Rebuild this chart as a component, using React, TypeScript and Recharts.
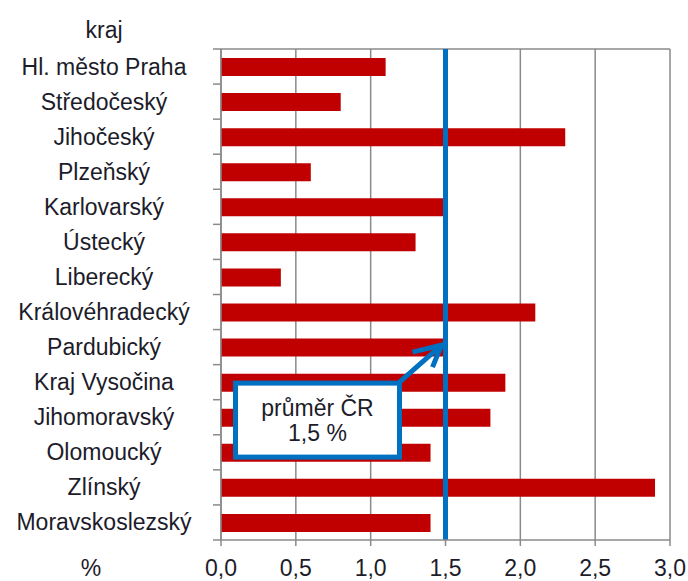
import React from "react";
import {
	Bar,
	BarChart,
	CartesianGrid,
	ReferenceDot,
	ReferenceLine,
	XAxis,
	YAxis,
} from "recharts";

const regions = [
	"Hl. město Praha",
	"Středočeský",
	"Jihočeský",
	"Plzeňský",
	"Karlovarský",
	"Ústecký",
	"Liberecký",
	"Královéhradecký",
	"Pardubický",
	"Kraj Vysočina",
	"Jihomoravský",
	"Olomoucký",
	"Zlínský",
	"Moravskoslezský",
];

const values = [1.1, 0.8, 2.3, 0.6, 1.5, 1.3, 0.4, 2.1, 1.5, 1.9, 1.8, 1.4, 2.9, 1.4];

const xTicks = [0, 0.5, 1, 1.5, 2, 2.5, 3];

const average = 1.5;
const averageLabel = ["průměr ČR", "1,5 %"];
const averageAnchor = "Pardubický";

const data = regions.map((kraj, i) => ({ kraj, value: values[i] }));

const FONT = "'Liberation Sans', Arial, sans-serif";
const TEXT = "#1c1c2a";
const GRID = "#8a8a8a";
const BLUE = "#0070C0";

const WIDTH = 688;
const HEIGHT = 581;
const TOP = 49;
const XAXIS_H = 41;
const YAXIS_W = 221;
const BAND = (HEIGHT - TOP - XAXIS_H) / regions.length;

const fmt = (v: number) => v.toFixed(1).replace(".", ",");

const KrajTick = (props: any) => {
	const { y, payload, index } = props;
	return (
		<g>
			<text
				x={104}
				y={y}
				dy={8}
				textAnchor="middle"
				fontFamily={FONT}
				fontSize={23}
				fill={TEXT}
			>
				{payload.value}
			</text>
			<line x1={YAXIS_W - 8} x2={YAXIS_W} y1={y - BAND / 2} y2={y - BAND / 2} stroke={GRID} strokeWidth={1.5} />
			{index === regions.length - 1 && (
				<line x1={YAXIS_W - 8} x2={YAXIS_W} y1={y + BAND / 2} y2={y + BAND / 2} stroke={GRID} strokeWidth={1.5} />
			)}
		</g>
	);
};

const AverageCallout = (props: any) => {
	const { cx, cy } = props;
	if (cx == null || cy == null) return null;
	return (
		<g>
			<line x1={cx - 46} y1={cy + 35} x2={cx - 4} y2={cy - 2} stroke={BLUE} strokeWidth={5} />
			<polyline
				points={`${cx - 33},${cy + 5} ${cx - 4},${cy - 2} ${cx - 13},${cy + 20}`}
				fill="none"
				stroke={BLUE}
				strokeWidth={5}
			/>
			<rect x={cx - 210} y={cy + 36} width={164} height={74} fill="#fff" stroke={BLUE} strokeWidth={5} />
			<text x={cx - 128} y={cy + 69} textAnchor="middle" fontFamily={FONT} fontSize={23} fill={TEXT}>
				{averageLabel[0]}
			</text>
			<text x={cx - 128} y={cy + 94} textAnchor="middle" fontFamily={FONT} fontSize={23} fill={TEXT}>
				{averageLabel[1]}
			</text>
		</g>
	);
};

export default function App() {
	return (
		<div style={{ position: "absolute", left: 0, top: 0, background: "#fff" }}>
			<BarChart
				width={WIDTH}
				height={HEIGHT}
				data={data}
				layout="vertical"
				margin={{ top: TOP, right: 18, bottom: 0, left: 0 }}
			>
				<CartesianGrid
					stroke={GRID}
					strokeWidth={1.5}
					horizontalCoordinatesGenerator={({ offset }: any) => [offset.top]}
				/>
				<XAxis
					type="number"
					domain={[0, 3]}
					ticks={xTicks}
					tickFormatter={fmt}
					height={XAXIS_H}
					axisLine={{ stroke: GRID, strokeWidth: 1.5 }}
					tickLine={{ stroke: GRID, strokeWidth: 1.5 }}
					tickSize={6}
					tickMargin={14}
					tick={{ fontFamily: FONT, fontSize: 23, fill: TEXT }}
					label={{
						content: ({ viewBox }: any) => (
							<text x={viewBox.x - 130} y={viewBox.y + 36} textAnchor="middle" fontFamily={FONT} fontSize={23} fill={TEXT}>
								%
							</text>
						),
					}}
				/>
				<YAxis
					type="category"
					dataKey="kraj"
					width={YAXIS_W}
					interval={0}
					axisLine={{ stroke: GRID, strokeWidth: 1.5 }}
					tickLine={false}
					tick={<KrajTick />}
					label={{
						content: ({ viewBox }: any) => (
							<text x={104} y={viewBox.y - 11} textAnchor="middle" fontFamily={FONT} fontSize={23} fill={TEXT}>
								kraj
							</text>
						),
					}}
				/>
				<Bar dataKey="value" fill="#C00000" barSize={18} isAnimationActive={false} />
				<ReferenceLine x={average} stroke={BLUE} strokeWidth={5} />
				<ReferenceDot x={average} y={averageAnchor} shape={<AverageCallout />} />
			</BarChart>
		</div>
	);
}
